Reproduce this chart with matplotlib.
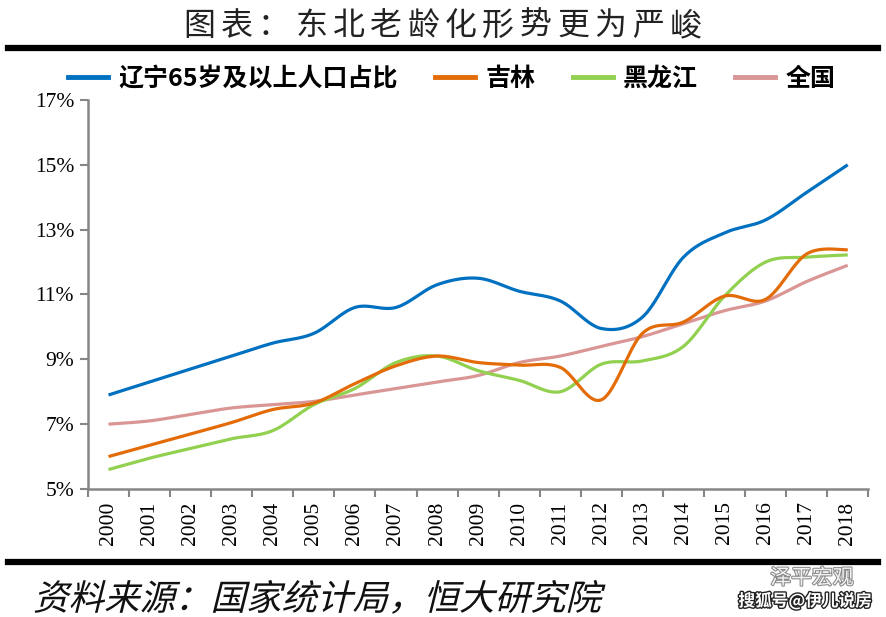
import numpy as np
import matplotlib.pyplot as plt
import matplotlib.patheffects as pe
from matplotlib.lines import Line2D
from matplotlib.textpath import TextPath
from matplotlib.patches import PathPatch
from matplotlib.font_manager import FontProperties
from matplotlib.transforms import Affine2D, IdentityTransform

plt.rcParams['font.family'] = ['Noto Sans CJK SC', 'DejaVu Sans']

years = [str(y) for y in range(2000, 2019)]
liaoning = [7.9, 8.3, 8.7, 9.1, 9.5, 9.8, 10.6, 10.6, 11.3, 11.5, 11.1, 10.8, 9.95, 10.3, 12.15, 12.9, 13.3, 14.15, 15.0]
jilin = [6.0, 6.35, 6.7, 7.05, 7.45, 7.65, 8.25, 8.8, 9.1, 8.9, 8.82, 8.75, 7.75, 9.8, 10.15, 10.95, 10.85, 12.25, 12.38]
heilongjiang = [5.6, 5.95, 6.25, 6.55, 6.8, 7.6, 8.1, 8.9, 9.1, 8.65, 8.35, 8.0, 8.85, 8.95, 9.4, 10.95, 12.0, 12.15, 12.22]
national = [7.0, 7.1, 7.3, 7.5, 7.6, 7.7, 7.9, 8.1, 8.3, 8.5, 8.9, 9.1, 9.4, 9.7, 10.1, 10.5, 10.8, 11.4, 11.9]

names = ['辽宁65岁及以上人口占比', '吉林', '黑龙江', '全国']
colors = ['#0070C0', '#E36C09', '#92D050', '#D99694']
yticks = [5, 7, 9, 11, 13, 15, 17]


def smooth(x, y, n=24):
    # bezier smoothing like excel's "smoothed line"
    x = np.asarray(x, float)
    y = np.asarray(y, float)
    px = np.concatenate([[x[0]], x, [x[-1]]])
    py = np.concatenate([[y[0]], y, [y[-1]]])
    t = np.linspace(0, 1, n)[:, None]
    xs, ys = [], []
    for i in range(1, len(x)):
        p0 = np.array([px[i - 1], py[i - 1]])
        p1 = np.array([px[i], py[i]])
        p2 = np.array([px[i + 1], py[i + 1]])
        p3 = np.array([px[i + 2], py[i + 2]])
        c1 = p1 + (p2 - p0) / 6
        c2 = p2 - (p3 - p1) / 6
        b = ((1 - t) ** 3) * p1 + 3 * ((1 - t) ** 2) * t * c1 + 3 * (1 - t) * t ** 2 * c2 + t ** 3 * p2
        xs.append(b[:, 0])
        ys.append(b[:, 1])
    return np.concatenate(xs), np.concatenate(ys)


fig = plt.figure(figsize=(8.86, 6.17), dpi=100)
ax = fig.add_axes([0.0993, 0.2075, 0.8807, 0.6305])

xpos = np.arange(len(years))
for vals, c in zip([liaoning, jilin, heilongjiang, national][::-1], colors[::-1]):
    sx, sy = smooth(xpos, vals)
    ax.plot(sx, sy, color=c, lw=2.3, solid_capstyle='butt')

ax.set_xlim(-0.5, len(years) - 0.5)
ax.set_ylim(5, 17)
ax.set_yticks(yticks)
ax.set_yticklabels([f'{v}%' for v in yticks], family='Liberation Serif', fontsize=15.5)
ax.set_xticks(xpos)
ax.set_xticklabels(years, rotation=90, family='Liberation Serif', fontsize=15.5)
ax.set_xticks(np.arange(-0.5, len(years)), minor=True)
ax.tick_params(axis='x', which='major', length=0, pad=9)
ax.tick_params(axis='x', which='minor', length=6, width=1.5, color='#868686')
ax.tick_params(axis='y', length=6, width=1.5, color='#868686', pad=4)
for s in ['top', 'right']:
    ax.spines[s].set_visible(False)
for s in ['left', 'bottom']:
    ax.spines[s].set_color('#868686')
    ax.spines[s].set_linewidth(1.8)

# legend
handles = [Line2D([], [], color=c, lw=3.5) for c in colors]
fig.legend(handles, names, loc='center', bbox_to_anchor=(0.51, 0.872), ncol=4, frameon=False,
           handlelength=1.6, handletextpad=0.4, columnspacing=1.5,
           prop={'family': 'Noto Sans CJK SC', 'weight': 'bold', 'size': 18})

# title, spread out characters
title = '图表：东北老龄化形势更为严峻'
for i, ch in enumerate(title):
    fig.text((199 + i * 37.4) / 886, 1 - 26 / 617, ch, ha='center', va='center', fontsize=23,
             color='#222222')

fig.add_artist(Line2D([8 / 886, 878 / 886], [1 - 48 / 617] * 2, color='black', lw=4.5))
fig.add_artist(Line2D([8 / 886, 878 / 886], [1 - 562 / 617] * 2, color='black', lw=4.5))

# slanted source note
src = TextPath((0, 0), '资料来源：国家统计局，恒大研究院', size=35.5,
               prop=FontProperties(family='Noto Sans CJK SC'))
fig.add_artist(PathPatch(src, transform=Affine2D().skew_deg(14, 0).translate(33, 617 - 610) + IdentityTransform(),
                         facecolor='#111111', edgecolor='none'))

fig.text(812 / 886, 1 - 578 / 617, '泽平宏观', ha='center', va='center', fontsize=15,
         color='#f2f2f2', path_effects=[pe.withStroke(linewidth=1.5, foreground='#888888')])
fig.text(805 / 886, 1 - 601 / 617, '搜狐号@伊儿说房', ha='center', va='center', fontsize=12,
         weight='bold', color='white', path_effects=[pe.withStroke(linewidth=2, foreground='#222222')])

fig.savefig('out.png', dpi=100)
